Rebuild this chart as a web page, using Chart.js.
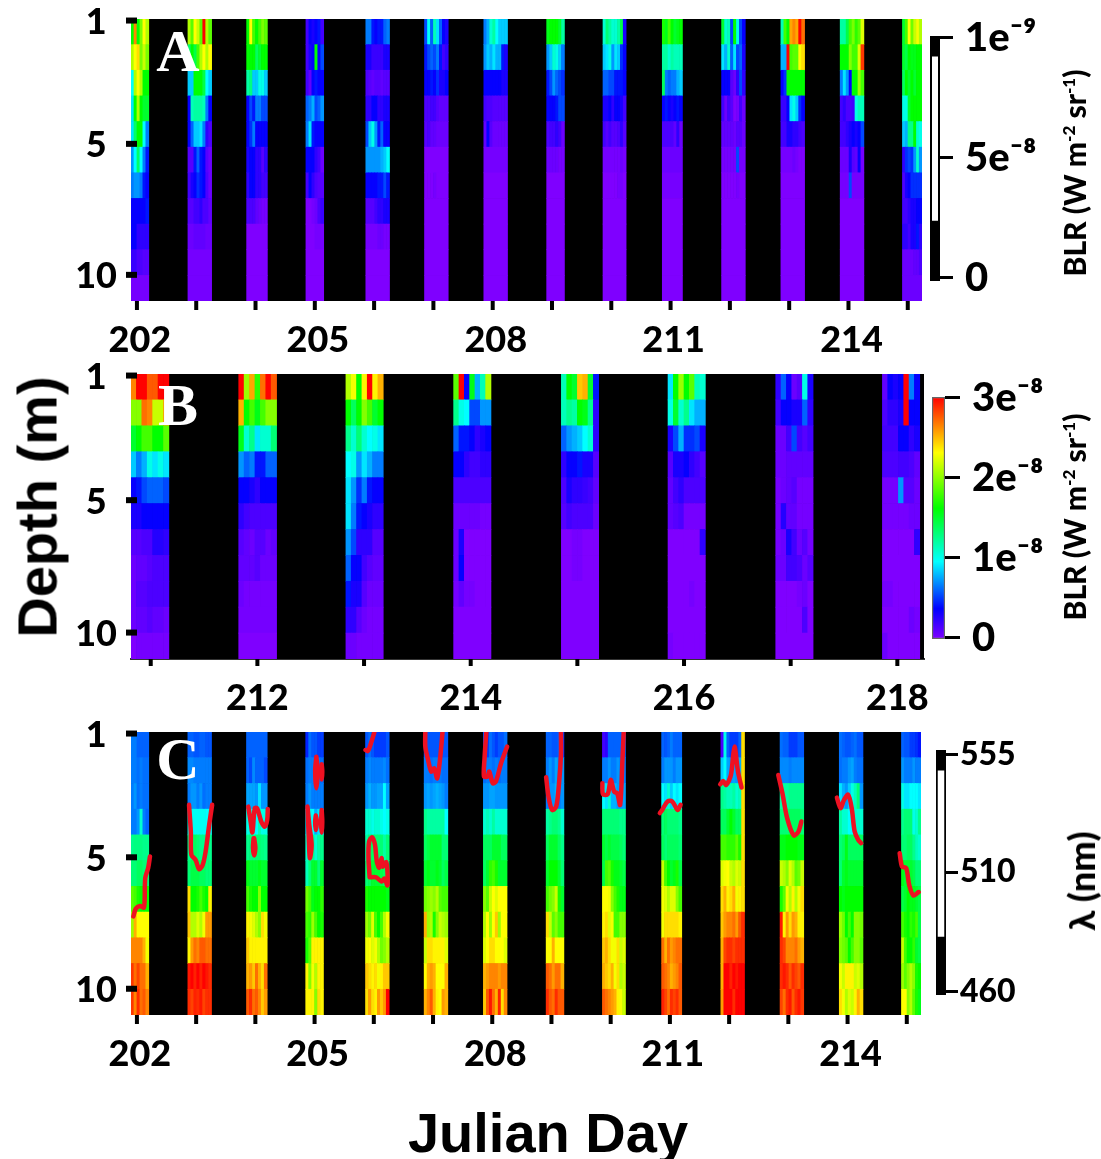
<!DOCTYPE html>
<html>
<head>
<meta charset="utf-8">
<title>BLR and wavelength by depth</title>
<script src="https://cdn.jsdelivr.net/npm/chart.js@4"></script>
<style>
  html, body { margin: 0; padding: 0; background: #fff; }
  body { position: relative; width: 1101px; height: 1159px; overflow: hidden; }
  canvas { position: absolute; }
  .txt { position: absolute; white-space: nowrap; color: #000; line-height: 1; transform: translate(-50%, -50%); }
  .big { font: bold 56px "Liberation Sans", Arial, sans-serif; }
  .letter { font: bold 60px "Liberation Serif", "Times New Roman", serif; color: #fff; }
  .side { font: 900 30px Lato, "Open Sans", sans-serif; transform: translate(-50%, -50%) rotate(-90deg); }
  .side sup { font-size: 17px; line-height: 0; }
</style>
</head>
<body>
<canvas id="chartA" width="870" height="365" style="left:63px;top:0"></canvas>
<canvas id="chartB" width="870" height="360" style="left:63px;top:355px"></canvas>
<canvas id="chartC" width="870" height="365" style="left:63px;top:713px"></canvas>
<canvas id="barA" width="171" height="320" style="left:930px;top:0"></canvas>
<canvas id="barB" width="169" height="300" style="left:932px;top:365px"></canvas>
<canvas id="barC" width="165" height="300" style="left:936px;top:725px"></canvas>

<div class="txt big" style="left:37px;top:507px;transform:translate(-50%,-50%) rotate(-90deg)">Depth (m)</div>
<div class="txt big" style="left:548px;top:1132px">Julian Day</div>
<div class="txt letter" style="left:178px;top:51px">A</div>
<div class="txt letter" style="left:178px;top:405px">B</div>
<div class="txt letter" style="left:178px;top:759px">C</div>
<div class="txt side" style="left:1074px;top:173px">BLR (W m<sup>-2</sup> sr<sup>-1</sup>)</div>
<div class="txt side" style="left:1074px;top:517px">BLR (W m<sup>-2</sup> sr<sup>-1</sup>)</div>
<div class="txt side" style="left:1081px;top:881px;font-size:36px">&lambda; (nm)</div>

<script>
// colour scale, level 0-100 = bottom to top of the colour bar
const rampStops = [0, 12.5, 32, 54, 77, 100];
const rampColors = [[127, 0, 255], [0, 0, 255], [0, 255, 255], [0, 255, 0], [255, 255, 0], [255, 0, 0]];

// axis ticks. depth ticks are not evenly placed in the figure so positions are row units
const depthTickPos = [0.06, 4.87, 9.98];
const depthTickLabels = ['1', '5', '10'];
const tickDaysAC = [202, 203, 204, 205, 206, 207, 208, 209, 210, 211, 212, 213, 214, 215];
const labelDaysAC = [202, 205, 208, 211, 214];
const tickDaysB = [211, 212, 213, 214, 215, 216, 217, 218];
const labelDaysB = [212, 214, 216, 218];

// sampling windows (julian day) for panels A and C
const startsAC = [201.9, 202.86, 203.85, 204.85, 205.86, 206.85, 207.85, 208.91, 209.86, 210.86, 211.86, 212.86, 213.86, 214.91];
const endsAC = [202.2, 203.26, 204.2, 205.15, 206.26, 207.25, 208.25, 209.21, 210.25, 211.2, 212.26, 213.26, 214.26, 215.24];
// sampling windows for panel B
const startsB = [210.815, 211.825, 212.83, 213.84, 214.85, 215.85, 216.86, 217.86];
const endsB = [211.17, 212.18, 213.18, 214.19, 215.2, 216.2, 217.21, 218.21];

// panel A, one list per night, one row per depth bin
const nightsA = [
  [[54,88,54,65,77,70],[70,77,80,65,72,65],[32,70,77,70,54,54],[30,54,70,54,50,50],[30,45,54,54,32,22],[24,32,45,32,22,14],[22,24,24,22,14,12],[12,12,12,12,12,14],[12,12,8,8,8,8],[7,7,5,5,4,4],[1]],
  [[70,62,77,72,62,100,70,62],[45,54,48,60,70,77,70,77],[28,28,54,54,54,48,32,28],[12,38,40,40,40,38,22,12],[12,20,28,28,30,22,8,5],[4,4,14,20,14,12,4,2],[6,10,12,16,14,12,5,2],[4,4,6,6,8,5,5,3],[2,3,3,2],[1],[1]],
  [[54,77,60,54,60,65,62],[54,54,54,46,50,54,54],[40,43,28,28,34,34,28],[12,18,14,22,22,18,18],[12,16,22,12,12,12,12],[10,12,12,8,8,4,8],[8,12,12,8,8,6,6],[5,5,5,3,2,1,1],[0],[0],[0]],
  [[6,12,10,12,14,6],[6,10,12,54,12,18],[6,3,12,14,12,12],[20,22,26,18,20,24],[22,30,14,12,12,12],[12,12,12,8,6,2],[6,12,8,5,4,4],[0,0,1,2,5,7],[0,0,0,1,1,1],[0],[0]],
  [[22,22,14,12,14,14,20,22],[10,10,7,7,7,7,10,10],[5,4,3,4,4,3,4,4],[8,8,12,12,8,8,10,10],[18,28,34,24,14,20,12,12],[24,24,24,24,24,26,28,32],[12,12,12,12,14,14,18,14],[4,4,4,6,8,8,10,10],[1,1,1,1,2,2,1,1],[0],[0]],
  [[18,32,20,38,30,20,12,10],[14,18,20,18,22,14,6,8],[12,12,14,12,16,10,10,12],[5,5,6,6,4,3,3,3],[4,5,3,3,2,2,2,2],[0],[0,0,0,1,0,0,0,0],[0],[0],[0],[0]],
  [[22,26,36,40,32,28,28,28],[24,28,26,30,26,26,14,10],[12,12,12,12,12,12,10,10],[6,5,5,4,4,4,4,4],[3,12,4,2,2,2,2,2],[1],[0],[0],[0],[0],[0]],
  [[52,54,54,54,50,40],[24,28,36,34,28,22],[14,18,24,20,18,16],[12,12,12,14,18,18],[5,6,6,8,6,2],[2,2,2,2,1,1],[0],[0],[0],[0],[0]],
  [[36,44,40,36,36,40,48,10],[28,30,34,24,30,28,16,12],[20,20,18,18,14,14,14,12],[10,10,12,8,12,12,10,6],[6,4,6,4,4,5,8,4],[1,1,1,1,1,1,2,1],[0,0,0,0,0,1,1,0],[0],[0],[0],[0]],
  [[56,52,60,54,50,52,54],[40,40,36,40,38,38,38],[46,22,20,22,22,26,28],[12,14,12,10,12,14,12],[5,5,5,5,3,8,2],[2],[1],[0],[0],[0],[0]],
  [[50,36,38,18,54,34,18,12],[30,26,36,20,30,18,20,10],[12,12,12,4,2,8,18,8],[6,2,6,4,0,1,6,2],[3,3,3,3,2,4,4,2],[1,1,1,1,1,18,1,1],[0,0,0,0,0,1,0,0],[0],[0],[0],[0]],
  [[38,60,54,85,88,85,100,90],[26,26,100,60,62,62,77,80],[12,16,54,54,54,54,54,54],[7,7,12,30,34,28,16,12],[6,6,10,10,8,8,6,5],[1,1,1,1,2,1,0,0],[0],[0],[0],[0],[0]],
  [[40,40,48,60,65,58,62,74],[54,54,54,66,60,60,74,95],[22,30,24,12,54,54,68,60],[6,8,5,5,6,34,38,38],[6,6,8,10,12,10,12,18],[2,2,2,10,4,3,12,1],[1,1,1,18,1,1,1,1],[0],[0],[0],[0]],
  [[50,60,77,64,72,76,70],[50,48,54,52,52,54,54],[46,54,50,54,50,54,54],[34,34,50,54,54,54,54],[28,26,42,42,54,36,34],[8,16,18,16,24,36,24],[5,10,12,16,16,16,16],[6,6,8,10,10,12,12],[8,8,6,10,10,14,8],[2,2,2,2,3,3,5],[2]]
];

// panel B
const nightsB = [
  [[88,100,100,92,92,100,100],[66,66,90,88,72,72,85],[50,54,60,60,54,54,62],[28,22,26,34,30,34,30],[12,14,18,20,20,20,18],[10,10,12,12,12,12,12],[4,4,5,5,9,9,8],[2,3,3,4,5,5,5],[2,4,4,5,5,5,5],[2,3,3,4,3,3,2],[0,1,1,1,1,1,1]],
  [[100,68,85,58,90,100,92],[84,54,60,52,60,66,66],[52,36,42,30,36,36,44],[24,20,22,14,14,20,20],[12,12,10,8,12,12,12],[8,6,5,5,5,5,5],[4,3,2,4,4,2,3],[3,3,3,4,2,2,2],[2,1,1,1,1,1,1],[1],[0]],
  [[70,76,54,78,100,78,84],[54,46,54,66,60,50,54],[42,36,44,36,32,34,30],[32,34,24,30,26,22,22],[30,24,16,22,14,12,12],[30,22,14,12,10,8,8],[24,18,8,8,8,4,4],[20,12,12,6,4,3,3],[14,10,10,4,2,2,2],[8,8,4,2,1,1,1],[2,2,1,1,1,1,1]],
  [[62,100,12,52,26,38,70],[42,34,32,18,18,24,24],[20,14,14,12,8,10,12],[12,12,8,6,6,8,8],[5],[2,2,2,2,2,1,1],[2,10,0,0,0,0,0],[2,12,0,0,0,0,0],[1,3,1,1,0,0,0],[0],[0]],
  [[38,54,50,82,84,50,14],[38,42,40,54,52,42,8],[20,24,26,28,32,36,8],[8,12,12,14,10,10,4],[5,10,8,8,7,6,3],[4,6,5,5,5,5,2],[0,0,1,1,0,0,0],[0,0,1,1,0,0,0],[0],[0],[0]],
  [[30,54,68,54,62,38,36],[34,50,36,42,30,26,26],[10,18,26,16,16,18,10],[4,10,10,12,8,6,4],[3,6,8,5,5,5,5],[3,4,5,1,1,1,1],[0,0,0,0,0,0,8],[0],[0,0,0,0,1,0,0],[0],[1,0,0,0,0,0,0]],
  [[8,20,12,2,4,34,10],[6,12,12,10,10,20,8],[2,2,6,18,6,4,6],[2,2,3,3,3,3,3],[1,2,3,4,1,1,1],[1,9,3,3,1,1,1],[1,2,10,6,2,4,1],[2,2,6,6,5,2,4],[0,0,0,0,1,2,0],[0,0,0,0,0,5,0],[0]],
  [[3,12,10,12,100,22,12],[5,8,8,10,100,12,12],[6,6,6,12,12,8,10],[5,5,5,6,6,5,3],[1,1,1,24,4,4,2],[1,1,1,1,1,2,2],[0,0,0,0,0,0,8],[0],[1,1,0,0,0,0,0],[0,0,0,0,0,2,1],[2,0,0,0,0,0,0]]
];

// panel C
const nightsC = [
  [[22,22,20,20,20,20],[22,22,21,22,21,21],[22,24,21,22,21,21],[22,22,24,36,22,20],[42,43,43,43,42,42],[44,44,46,46,44,44],[62,60,56,54,54,54],[68,84,77,77,77,77],[88,88,88,88,84,76],[95,90,94,90,90,84],[95,88,96,90,92,88]],
  [[20,20,19,19,20,20,19,19],[23,23,22,22,22,22,22,22],[22,24,24,22,24,21,22,22],[34,33,33,33,33,33,32,32],[42,43,46,44,42,42,42,42],[44,48,48,48,46,46,44,44],[80,54,54,56,60,56,54,78],[82,70,70,74,70,76,86,86],[78,86,90,88,92,92,90,90],[98,100,97,100,97,100,98,96],[96,94,97,96,98,94,96,96]],
  [[20],[20,18,23,20,20,20,18],[25,25,25,24,30,24,24],[34,36,32,32,38,34,34],[42,43,43,44,44,43,42],[52,50,50,50,52,50,50],[60,56,54,54,66,54,54],[78,76,74,70,66,80,76],[82,78,78,78,78,78,78],[84,86,82,90,84,80,90],[92,96,90,92,88,82,86]],
  [[15,21,19,19,17,17],[21,22,22,22,22,21],[22,24,22,22,22,22],[30,34,32,26,30,30],[36,36,42,36,40,42],[38,44,50,50,44,50],[64,60,52,54,54,58],[60,58,68,60,54,56],[56,62,78,78,78,78],[78,66,76,70,78,78],[78,78,78,66,80,78]],
  [[19,21,19,17,17,17,17,19],[22,23,22,22,22,22,23,21],[24,26,24,24,25,25,32,25],[36,36,34,36,36,34,32,34],[40,44,46,44,44,44,40,44],[44,46,50,50,50,48,46,44],[56,54,54,54,54,54,54,52],[68,64,74,60,54,60,70,76],[76,77,74,76,70,64,66,70],[82,80,78,80,76,78,82,82],[80,86,80,78,86,82,86,100]],
  [[20,19,19,19,19,19,19,19],[22,22,21,22,22,22,21,21],[24,25,24,25,26,25,24,22],[42,40,40,40,40,40,40,32],[46,48,50,50,50,50,44,44],[50,52,50,50,52,50,46,48],[64,66,68,66,70,62,60,60],[84,68,70,56,66,72,70,68],[72,80,80,78,78,78,78,74],[77,84,86,84,77,77,77,84],[84,88,92,84,78,77,86,84]],
  [[19,17,21,19,17,19,19,21],[21,22,22,21,22,21,22,22],[24,24,25,25,24,24,24,24],[36,38,36,40,36,36,36,36],[46,46,46,50,50,50,46,46],[46,50,58,60,56,50,50,50],[66,62,72,77,74,77,77,77],[70,77,68,77,82,68,77,77],[74,77,80,80,77,77,77,74],[84,86,88,88,88,86,88,88],[82,92,98,90,84,97,80,88]],
  [[20,20,19,19,20,17],[22,24,22,25,22,24],[22,24,24,26,22,24],[40,42,44,44,42,36],[46,50,50,50,46,42],[50,54,54,54,50,44],[60,64,66,72,56,50],[80,72,62,66,60,60],[77,77,84,77,77,77],[92,90,86,90,90,84],[96,92,90,96,92,92]],
  [[6,8,20,20,20,20,20,20],[22,22,24,22,22,24,22,22],[32,30,36,26,26,24,24,25],[44,44,44,44,44,44,42,42],[50,48,50,48,48,48,46,44],[48,60,62,56,52,52,50,48],[77,77,76,66,60,56,52,52],[78,80,74,76,60,60,66,66],[82,84,80,76,76,80,72,74],[84,82,80,84,76,80,70,72],[92,90,88,86,84,78,76,72]],
  [[20,19,20,22,20,20,20],[22,24,24,24,22,24,24],[32,30,36,28,32,30,32],[44,46,44,44,44,44,42],[46,44,46,46,46,46,44],[72,60,54,50,52,56,48],[76,74,70,74,74,66,60],[76,80,80,80,80,80,78],[90,84,90,86,88,90,90],[92,90,88,84,86,88,92],[97,94,90,96,94,96,92]],
  [[5,34,20,17,17,17,20,80],[28,32,25,24,25,24,26,80],[42,40,38,38,40,36,38,80],[46,46,50,54,50,46,46,80],[60,60,58,58,58,62,56,80],[74,76,77,72,70,74,72,80],[80,84,78,80,84,76,78,80],[82,86,88,88,90,86,92,96],[84,94,96,96,94,96,96,96],[84,100,100,97,100,98,100,100],[86,100,100,100,96,100,100,100]],
  [[21,20,20,17,17,17,19,19],[23,23,23,22,23,23,23,23],[40,40,40,42,42,42,42,42],[44,44,44,46,46,46,46,44],[52,52,54,54,54,54,52,52],[72,70,66,74,70,62,64,72],[56,62,76,70,78,70,76,80],[98,78,86,80,86,84,78,78],[96,94,88,88,88,90,86,84],[96,98,96,92,96,94,92,96],[94,90,96,98,92,96,98,95]],
  [[21,20,19,19,20,21,19,19],[21,22,22,24,25,22,21,21],[30,26,24,28,34,38,44,24],[40,36,36,32,32,36,36,36],[44,46,52,46,46,46,46,46],[44,50,52,50,50,50,50,50],[54,52,54,54,54,54,54,54],[68,64,54,60,54,66,66,64],[66,64,62,54,60,66,66,62],[76,72,78,78,78,72,74,70],[80,76,70,74,72,78,84,80]],
  [[20,19,19,17,17,16,14],[24,22,22,22,24,22,22],[34,30,30,32,32,32,30],[42,44,44,44,34,36,42],[44,44,46,46,42,38,36],[52,50,50,50,48,44,44],[48,50,54,52,52,50,48],[60,56,54,58,56,60,48],[72,60,54,54,58,50,48],[68,62,66,70,66,56,54],[77,77,66,70,62,56,52]]
];

// red isolume traces on panel C, day and depth row of each vertex
const traceDays = [
  [201.94,201.98,202.05,202.12,202.14,202.19,202.22],
  [202.88,202.91,202.92,202.99,203.05,203.11,203.16,203.22,203.27],
  [203.88,203.92,203.95,203.99,204.03,204.10,204.16,204.20,204.21],
  [203.97,203.96,203.98,204.0,203.98],
  [205.03,205.01,205.03,205.05,205.03],
  [205.12,205.11,205.12,205.13,205.12],
  [204.88,204.90,204.92,204.95,204.91,204.88],
  [205.02,205.01,205.02,205.04,205.02],
  [205.12,205.11,205.12,205.13,205.12],
  [205.86,205.90,205.96,206.01],
  [205.93,205.91,205.92,205.97,206.02,206.05,206.09,206.13,206.15,206.21,206.23,206.23,206.18,206.13,206.04,205.93],
  [206.87,206.87,206.91,206.97,207.02,207.07,207.12,207.16],
  [207.90,207.87,207.86,207.92,207.95,208.01,208.06,208.15,208.25],
  [208.91,208.95,209.01,209.08,209.13,209.16,209.16],
  [209.86,209.87,209.95,210.00,210.06,210.11,210.16,210.20,210.22],
  [210.83,210.87,210.96,211.04,211.13,211.18],
  [211.85,211.90,211.95,212.03,212.09,212.15,212.21],
  [212.83,212.90,212.98,213.09,213.17,213.22],
  [213.82,213.88,213.94,214.01,214.07,214.12,214.18,214.23],
  [214.88,214.92,214.99,215.04,215.11,215.20]
];
const traceRows = [
  [7.17,6.87,6.76,6.82,5.68,5.29,4.84],
  [2.83,3.87,4.78,4.97,5.33,5.17,4.65,3.61,2.83],
  [2.90,3.48,3.90,2.96,2.96,3.48,3.68,3.42,2.99],
  [4.13,4.5,4.8,4.5,4.13],
  [0.96,1.5,2.19,1.5,0.96],
  [1.25,1.55,1.85,1.55,1.25],
  [2.9,4.0,4.9,4.4,3.6,2.9],
  [3.25,3.5,3.81,3.5,3.25],
  [3.03,3.5,3.92,3.5,3.03],
  [0.70,0.74,0.38,0],
  [5.65,4.90,4.26,4.09,4.38,5.03,5.27,4.90,5.23,5.06,5.42,5.96,5.70,5.81,5.65,5.65],
  [0,0.57,1.02,1.54,1.41,1.80,1.02,0],
  [0,1.02,1.73,1.73,1.54,1.99,1.93,1.21,0.57],
  [1.76,2.51,3.03,2.90,1.93,0.89,0],
  [1.99,2.42,2.42,1.86,2.32,2.38,2.83,1.02,0],
  [3.15,3.03,2.70,2.70,3.03,2.83],
  [2.03,1.90,2.06,1.67,0.57,1.54,2.16],
  [1.67,2.38,3.35,4.02,3.87,3.48],
  [2.55,2.96,2.64,2.44,2.96,3.87,4.19,4.32],
  [4.71,5.23,5.29,5.94,6.35,6.22]
];

// colour bars
const tickValsA = [0, 5, 10];
const tickLabelsA = ['0', '5e\u207B\u2078', '1e\u207B\u2079'];
const tickValsB = [0, 1, 2, 3];
const tickLabelsB = ['0', '1e\u207B\u2078', '2e\u207B\u2078', '3e\u207B\u2078'];
const tickValsC = [460, 508, 555];
const tickLabelsC = ['460', '510', '555'];

const tickFont = { family: 'Lato, "Open Sans", sans-serif', size: 36, weight: '900' };

function rampColor(v) {
  let i = 0;
  while (i < rampStops.length - 2 && v > rampStops[i + 1]) i++;
  const t = (v - rampStops[i]) / (rampStops[i + 1] - rampStops[i]);
  const a = rampColors[i], b = rampColors[i + 1];
  return `rgb(${a[0] + (b[0] - a[0]) * t},${a[1] + (b[1] - a[1]) * t},${a[2] + (b[2] - a[2]) * t})`;
}

// black plot background, then the stubby ticks that sit across the plot edge
const plotBackground = {
  id: 'plotBackground',
  beforeDatasetsDraw(chart) {
    const a = chart.chartArea;
    chart.ctx.fillStyle = '#000';
    chart.ctx.fillRect(a.left, a.top, a.right - a.left, a.bottom - a.top);
  }
};
const stubTicks = {
  id: 'stubTicks',
  afterDatasetsDraw(chart) {
    const a = chart.chartArea, ctx = chart.ctx;
    const h = chart.options.plugins.stubTicks.length;
    ctx.fillStyle = '#000';
    chart.scales.y.ticks.forEach(t => ctx.fillRect(a.left - 5, chart.scales.y.getPixelForValue(t.value) - 3, 11, 6));
    chart.scales.x.ticks.forEach(t => ctx.fillRect(chart.scales.x.getPixelForValue(t.value) - 2, a.bottom, 4, h));
  }
};

function buildCells(nights, starts, ends) {
  const cells = [];
  nights.forEach((rows, n) => {
    rows.forEach((row, r) => {
      const w = (ends[n] - starts[n]) / row.length;
      row.forEach((v, j) => cells.push({ x: [starts[n] + j * w, starts[n] + (j + 1) * w], y: r + 0.5, level: v }));
    });
  });
  return cells;
}

function heatPanel(id, cfg) {
  const cells = buildCells(cfg.nights, cfg.starts, cfg.ends);
  const datasets = [{
    type: 'bar',
    indexAxis: 'y',
    order: 2,
    data: cells,
    backgroundColor: cells.map(c => rampColor(c.level)),
    barPercentage: 1,
    categoryPercentage: 1
  }];
  (cfg.traceDays || []).forEach((days, i) => {
    datasets.push({
      type: 'scatter',
      order: 1,
      showLine: true,
      pointRadius: 0,
      borderColor: '#ee1122',
      borderWidth: 4.5,
      borderCapStyle: 'round',
      borderJoinStyle: 'round',
      tension: 0.3,
      data: days.map((d, k) => ({ x: d, y: cfg.traceRows[i][k] }))
    });
  });
  new Chart(document.getElementById(id), {
    type: 'bar',
    data: { datasets },
    plugins: [plotBackground, stubTicks],
    options: {
      responsive: false,
      animation: false,
      indexAxis: 'y',
      layout: { padding: { top: cfg.top, right: cfg.right } },
      plugins: { legend: { display: false }, tooltip: { enabled: false }, stubTicks: { length: cfg.tickLen } },
      scales: {
        x: {
          type: 'linear',
          position: 'bottom',
          min: cfg.xMin,
          max: cfg.xMax,
          offset: false,
          grid: { display: false, drawTicks: false, offset: false },
          border: cfg.axisLine ? { display: true, color: '#333', width: 2 } : { display: false },
          afterBuildTicks: s => { s.ticks = cfg.tickDays.map(value => ({ value })); },
          afterFit: s => { s.height = cfg.bottom; s.paddingLeft = 0; s.paddingRight = 0; },
          ticks: {
            autoSkip: false, maxRotation: 0, color: '#000', font: tickFont, padding: 18, labelOffset: cfg.labelOffset,
            callback: v => cfg.labelDays.includes(v) ? String(v) : ''
          }
        },
        y: {
          type: 'linear',
          position: 'left',
          reverse: true,
          min: 0,
          max: 11,
          offset: false,
          grid: { display: false, drawTicks: false, offset: false },
          border: { display: false },
          afterBuildTicks: s => { s.ticks = depthTickPos.map(value => ({ value })); },
          afterFit: s => { s.width = 68; s.paddingTop = 0; s.paddingBottom = 0; },
          ticks: {
            color: '#000', font: tickFont, padding: 14, crossAlign: 'center', labelOffset: 2,
            callback: v => depthTickLabels[depthTickPos.indexOf(v)]
          }
        }
      }
    }
  });
}

heatPanel('chartA', { nights: nightsA, starts: startsAC, ends: endsAC, xMin: 201.9, xMax: 215.24, tickDays: tickDaysAC, labelDays: labelDaysAC, top: 19, bottom: 64, right: 11, tickLen: 9, labelOffset: 3 });
heatPanel('chartB', { nights: nightsB, starts: startsB, ends: endsB, xMin: 210.815, xMax: 218.25, tickDays: tickDaysB, labelDays: labelDaysB, top: 19, bottom: 56, right: 9, tickLen: 7, labelOffset: 0, axisLine: true });
heatPanel('chartC', { nights: nightsC, starts: startsAC, ends: endsAC, xMin: 201.9, xMax: 215.24, tickDays: tickDaysAC, labelDays: labelDaysAC, top: 19, bottom: 63, right: 12, tickLen: 9, labelOffset: 3, traceDays, traceRows });

function colourBar(id, cfg) {
  new Chart(document.getElementById(id), {
    type: 'bar',
    data: { labels: [''], datasets: cfg.datasets },
    options: {
      responsive: false,
      animation: false,
      layout: { padding: { top: cfg.top, bottom: cfg.bottom } },
      plugins: { legend: { display: false }, tooltip: { enabled: false } },
      scales: {
        x: { display: false, offset: true, grid: { display: false } },
        y: {
          position: 'right',
          min: cfg.min,
          max: cfg.max,
          grid: { drawOnChartArea: false, drawTicks: true, tickLength: cfg.tickLen, tickWidth: 3, tickColor: '#000' },
          border: { display: false },
          afterBuildTicks: s => { s.ticks = cfg.vals.map(value => ({ value })); },
          afterFit: s => { s.width = cfg.axisWidth; s.paddingTop = 0; s.paddingBottom = 0; },
          ticks: {
            color: '#000', font: Object.assign({}, tickFont, { size: cfg.fontSize }), padding: cfg.pad,
            callback: v => cfg.labels[cfg.vals.indexOf(v)]
          }
        }
      }
    }
  });
}

const frameBarA = [[-0.14, 10.08]];
const whiteBarA = [[2.37, 9.22]];
const fullBarB = [[-0.016, 3.01]];
const frameBarC = [[458.7, 557]];
const whiteBarC = [[482.1, 548.8]];

function stripe(data, color, pct) {
  return { data, backgroundColor: color, grouped: false, barPercentage: pct, categoryPercentage: 1 };
}

colourBar('barA', {
  datasets: [stripe(whiteBarA, '#fff', 0.6), stripe(frameBarA, '#000', 1)],
  min: -0.14, max: 10.08, vals: tickValsA, labels: tickLabelsA, top: 36, bottom: 39, tickLen: 13, pad: 12, axisWidth: 161, fontSize: 40
});
colourBar('barB', {
  datasets: [{
    data: fullBarB, grouped: false, barPercentage: 1, categoryPercentage: 1,
    borderColor: '#666', borderWidth: 1.5, borderSkipped: false,
    backgroundColor: c => {
      const a = c.chart.chartArea;
      if (!a) return '#000';
      const g = c.chart.ctx.createLinearGradient(0, a.bottom, 0, a.top);
      rampStops.forEach(s => g.addColorStop(s / 100, rampColor(s)));
      return g;
    }
  }],
  min: -0.016, max: 3.01, vals: tickValsB, labels: tickLabelsB, top: 32, bottom: 26, tickLen: 15, pad: 12, axisWidth: 156, fontSize: 40
});
colourBar('barC', {
  datasets: [stripe(whiteBarC, '#fff', 0.65), stripe(frameBarC, '#000', 1)],
  min: 458.7, max: 557, vals: tickValsC, labels: tickLabelsC, top: 25, bottom: 30, tickLen: 12, pad: 2, axisWidth: 155, fontSize: 32
});
</script>
</body>
</html>
